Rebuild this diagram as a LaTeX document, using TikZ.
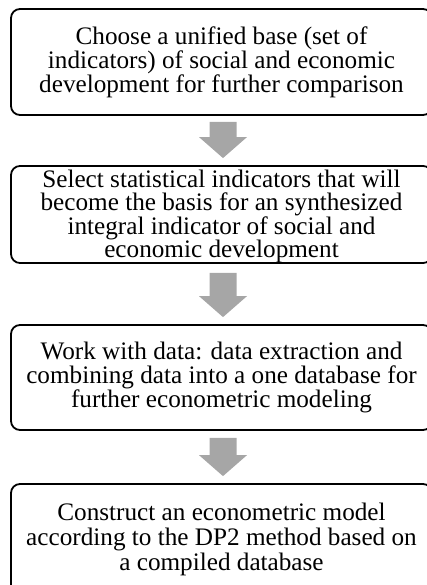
\documentclass[tikz,border=0pt]{standalone}
\usepackage{fontspec}
\setmainfont{Liberation Serif}
\usetikzlibrary{calc}
\definecolor{arrowgrey}{RGB}{166,166,166}
\tikzset{
  stepbox/.style={draw=black, line width=1.8pt, rounded corners=9pt, align=center,
    inner sep=0pt, font=\fontsize{25.2}{24}\selectfont, minimum width=421pt},
  blockfill/.style={fill=arrowgrey, draw=none}
}
\newcommand\blockarrow[4]{%
  \fill[blockfill] let \p1=($(#1.south)+(1.5,#3)$), \p2=($(#2.north)+(1.5,-#4)$) in
    (\x1-13.5pt,\y1) -- (\x1+13.5pt,\y1) -- (\x1+13.5pt,\y2+21pt) -- (\x1+24pt,\y2+21pt)
    -- (\x1,\y2) -- (\x1-24pt,\y2+21pt) -- (\x1-13.5pt,\y2+21pt) -- cycle;}
\begin{document}
\begin{tikzpicture}[x=1pt,y=-1pt]
\useasboundingbox (0,0) rectangle (427,585);
\clip (0,0) rectangle (427,585);
\node[stepbox, minimum height=106pt] (b1) at (221.5,62)
  {Choose a unified base (set of\\indicators) of social and economic\\development for further comparison};
\node[stepbox, minimum height=97pt, font=\fontsize{25.2}{23.4}\selectfont] (b2) at (221.5,214.5)
  {\rule{0pt}{21.5pt}Select statistical indicators that will\\become the basis for an synthesized\\integral indicator of social and\\economic development};
\node[stepbox, minimum height=105pt] (b3) at (221.5,377.5)
  {Work with data: data extraction and\\combining data into a one database for\\further econometric modeling};
\node[stepbox, minimum height=111pt, font=\fontsize{25.2}{24.8}\selectfont] (b4) at (221.5,539.5)
  {Construct an econometric model\\according to the DP2 method based on\\a compiled database};
\blockarrow{b1}{b2}{6}{7}
\blockarrow{b2}{b3}{9}{7}
\blockarrow{b3}{b4}{7}{7}
\end{tikzpicture}
\end{document}
